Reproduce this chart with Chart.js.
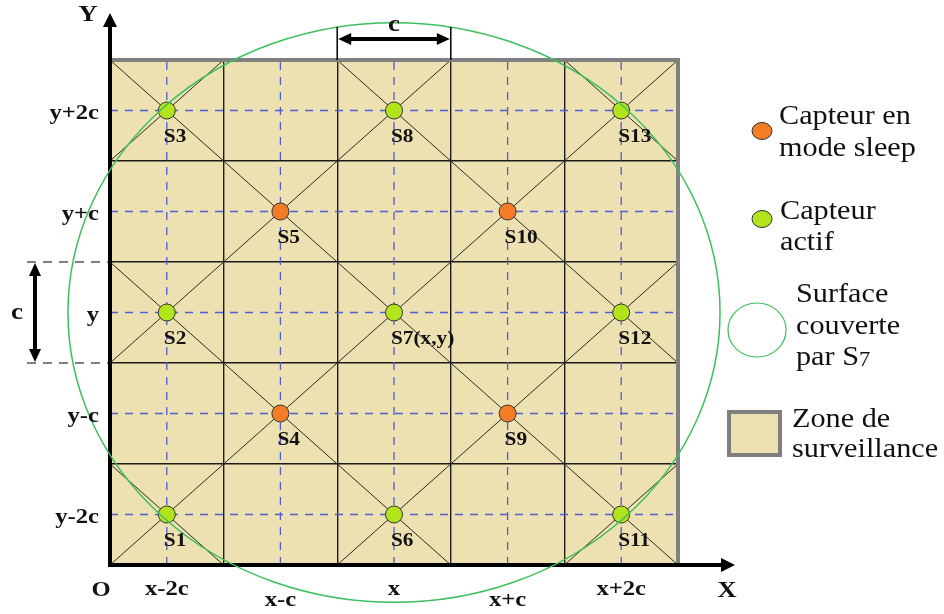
<!DOCTYPE html>
<html lang="fr">
<head>
<meta charset="utf-8">
<title>Zone de surveillance</title>
<script src="https://cdn.jsdelivr.net/npm/chart.js@4.4.1/dist/chart.umd.min.js"></script>
<style>
  html, body { margin: 0; padding: 0; background: #fff; }
  #zoneChart { display: block; }
</style>
</head>
<body>
<canvas id="zoneChart" width="944" height="614"></canvas>
<script>
/* ===================================
   Zone de surveillance - capteurs
   =================================== */

// Capteurs (en unités de cellule, origine en bas à gauche)
const sensorNames = ['S1', 'S2', 'S3', 'S4', 'S5', 'S6', 'S7', 'S8', 'S9', 'S10', 'S11', 'S12', 'S13'];
const sensorX = [0.5, 0.5, 0.5, 1.5, 1.5, 2.5, 2.5, 2.5, 3.5, 3.5, 4.5, 4.5, 4.5];
const sensorY = [0.5, 2.5, 4.5, 1.5, 3.5, 0.5, 2.5, 4.5, 1.5, 3.5, 0.5, 2.5, 4.5];
const sleepingSensors = ['S4', 'S5', 'S9', 'S10'];

// Lignes pointillées bleues (axes des capteurs)
const sensorAxes = [0.5, 1.5, 2.5, 3.5, 4.5];

// Diagonales [x1, y1, x2, y2]
const diagRising = [[0, 4, 1, 5], [0, 2, 3, 5], [0, 0, 5, 5], [2, 0, 5, 3], [4, 0, 5, 1]];
const diagFalling = [[0, 1, 1, 0], [0, 3, 3, 0], [0, 5, 5, 0], [2, 5, 5, 2], [4, 5, 5, 4]];

// Étiquettes des axes
const xTickLabels = ['x-2c', 'x-c', 'x', 'x+c', 'x+2c'];
const yTickLabels = ['y-2c', 'y-c', 'y', 'y+c', 'y+2c'];

// Rayon de la surface couverte par S7
const coverCenter = 'S7';
const coverRadius = 2.87;

// Légende
const legendSleep = ['Capteur en', 'mode sleep'];
const legendActive = ['Capteur', 'actif'];
const legendCover = ['Surface', 'couverte', 'par S'];
const legendZone = ['Zone de', 'surveillance'];

const colors = {
    zone: '#EEE1B1',
    zoneBorder: '#808080',
    grid: '#1c1c1c',
    diag: '#2a2a2a',
    blue: '#4E5ED6',
    sleep: '#F57C26',
    active: '#B2E41C',
    outline: '#333333',
    cover: '#3CBF5C',
    text: '#111111'
};

const STRETCH = 1.12;
const SERIF = "'Liberation Serif', 'DejaVu Serif', serif";

function sensorPoints(sleep) {
    const pts = [];
    sensorNames.forEach((name, i) => {
        if (sleepingSensors.includes(name) === sleep) {
            pts.push({ x: sensorX[i], y: sensorY[i] });
        }
    });
    return pts;
}

function segment(x1, y1, x2, y2, color, width, dash, order) {
    return {
        data: [{ x: x1, y: y1 }, { x: x2, y: y2 }],
        showLine: true,
        borderColor: color,
        borderWidth: width,
        borderDash: dash,
        pointRadius: 0,
        order: order
    };
}

const datasets = [
    {
        label: 'Capteur actif',
        data: sensorPoints(false),
        backgroundColor: colors.active,
        borderColor: colors.outline,
        borderWidth: 1,
        pointRadius: 8.5,
        order: 0
    },
    {
        label: 'Capteur en mode sleep',
        data: sensorPoints(true),
        backgroundColor: colors.sleep,
        borderColor: colors.outline,
        borderWidth: 1,
        pointRadius: 8.5,
        order: 0
    }
];
sensorAxes.forEach(v => {
    datasets.push(segment(v, 0, v, 5, colors.blue, 1.3, [8, 7], 2));
    datasets.push(segment(0, v, 5, v, colors.blue, 1.3, [8, 7], 2));
});
diagRising.concat(diagFalling).forEach(d => {
    datasets.push(segment(d[0], d[1], d[2], d[3], colors.diag, 1, [], 3));
});

// Texte étiré horizontalement comme dans la figure
function drawText(ctx, text, x, y, font, align) {
    ctx.save();
    ctx.font = font;
    ctx.textAlign = align || 'left';
    ctx.textBaseline = 'middle';
    ctx.fillStyle = colors.text;
    ctx.translate(x, y);
    ctx.scale(STRETCH, 1);
    ctx.fillText(text, 0, 0);
    const w = ctx.measureText(text).width * STRETCH;
    ctx.restore();
    return w;
}

function arrowHead(ctx, tx, ty, dx, dy, len, half) {
    ctx.beginPath();
    ctx.moveTo(tx, ty);
    ctx.lineTo(tx - dx * len - dy * half, ty - dy * len + dx * half);
    ctx.lineTo(tx - dx * len + dy * half, ty - dy * len - dx * half);
    ctx.closePath();
    ctx.fill();
}

const decorPlugin = {
    id: 'decor',
    beforeDraw(chart) {
        const { ctx, chartArea: a } = chart;
        ctx.save();
        ctx.fillStyle = colors.zone;
        ctx.fillRect(a.left, a.top, a.width, a.height);
        ctx.restore();
    },
    afterDraw(chart) {
        const { ctx, chartArea: a, scales } = chart;
        const xs = scales.x, ys = scales.y;
        const bold = (s) => `bold ${s}px ${SERIF}`;
        const reg = (s) => `${s}px ${SERIF}`;

        ctx.save();

        // Bordure grise haut / droite
        ctx.strokeStyle = colors.zoneBorder;
        ctx.lineWidth = 4;
        ctx.beginPath();
        ctx.moveTo(a.left, a.top);
        ctx.lineTo(a.right, a.top);
        ctx.lineTo(a.right, a.bottom);
        ctx.stroke();

        // Axes X et Y avec flèches
        ctx.strokeStyle = '#000';
        ctx.fillStyle = '#000';
        ctx.lineWidth = 4;
        ctx.beginPath();
        ctx.moveTo(a.left, a.bottom + 2);
        ctx.lineTo(a.left, a.top - 36);
        ctx.moveTo(a.left - 2, a.bottom);
        ctx.lineTo(a.right + 46, a.bottom);
        ctx.stroke();
        arrowHead(ctx, a.left, a.top - 47, 0, -1, 14, 7);
        arrowHead(ctx, a.right + 57, a.bottom, 1, 0, 14, 7);

        // Surface couverte par S7
        const ci = sensorNames.indexOf(coverCenter);
        const cx = xs.getPixelForValue(sensorX[ci]);
        const cy = ys.getPixelForValue(sensorY[ci]);
        const rx = xs.getPixelForValue(sensorX[ci] + coverRadius) - cx;
        const ry = cy - ys.getPixelForValue(sensorY[ci] + coverRadius);
        ctx.strokeStyle = colors.cover;
        ctx.lineWidth = 1.5;
        ctx.beginPath();
        ctx.ellipse(cx, cy, rx, ry, 0, 0, Math.PI * 2);
        ctx.stroke();

        // Cote horizontale "c"
        const c1 = xs.getPixelForValue(2), c2 = xs.getPixelForValue(3);
        const cyDim = a.top - 21;
        ctx.strokeStyle = '#000';
        ctx.fillStyle = '#000';
        ctx.lineWidth = 1.5;
        ctx.beginPath();
        ctx.moveTo(c1, a.top - 33); ctx.lineTo(c1, a.top);
        ctx.moveTo(c2, a.top - 33); ctx.lineTo(c2, a.top);
        ctx.stroke();
        ctx.lineWidth = 4;
        ctx.beginPath();
        ctx.moveTo(c1 + 10, cyDim); ctx.lineTo(c2 - 10, cyDim);
        ctx.stroke();
        arrowHead(ctx, c1 + 1, cyDim, -1, 0, 13, 6);
        arrowHead(ctx, c2 - 1, cyDim, 1, 0, 13, 6);
        drawText(ctx, 'c', (c1 + c2) / 2, a.top - 35, bold(24), 'center');

        // Cote verticale "c"
        const r1 = ys.getPixelForValue(3), r2 = ys.getPixelForValue(2);
        ctx.lineWidth = 1.2;
        ctx.setLineDash([9, 7]);
        ctx.beginPath();
        ctx.moveTo(27, r1); ctx.lineTo(a.left, r1);
        ctx.moveTo(27, r2); ctx.lineTo(a.left, r2);
        ctx.stroke();
        ctx.setLineDash([]);
        ctx.lineWidth = 4;
        ctx.beginPath();
        ctx.moveTo(35, r1 + 10); ctx.lineTo(35, r2 - 10);
        ctx.stroke();
        arrowHead(ctx, 35, r1 + 1, 0, -1, 13, 6);
        arrowHead(ctx, 35, r2 - 1, 0, 1, 13, 6);
        drawText(ctx, 'c', 17, (r1 + r2) / 2, bold(24), 'center');

        // Étiquettes des axes
        xTickLabels.forEach((t, i) => {
            const drop = i % 2 === 0 ? 24 : 35;
            drawText(ctx, t, xs.getPixelForValue(sensorAxes[i]), a.bottom + drop, bold(22), 'center');
        });
        yTickLabels.forEach((t, i) => {
            drawText(ctx, t, a.left - 11, ys.getPixelForValue(sensorAxes[i]) + 3, bold(22), 'right');
        });
        drawText(ctx, 'O', a.left - 9, a.bottom + 25, bold(22), 'center');
        drawText(ctx, 'Y', a.left - 22, 15, bold(24), 'center');
        drawText(ctx, 'X', a.right + 49, a.bottom + 26, bold(24), 'center');

        // Noms des capteurs
        sensorNames.forEach((name, i) => {
            const label = name === coverCenter ? name + '(x,y)' : name;
            drawText(ctx, label, xs.getPixelForValue(sensorX[i]) - 3,
                ys.getPixelForValue(sensorY[i]) + 27, bold(19), 'left');
        });

        // Légende
        const lx = a.right;
        const dot = (x, y, fill) => {
            ctx.fillStyle = fill;
            ctx.strokeStyle = colors.outline;
            ctx.lineWidth = 1;
            ctx.beginPath();
            ctx.ellipse(x, y, 10, 8.5, 0, 0, Math.PI * 2);
            ctx.fill();
            ctx.stroke();
        };
        dot(lx + 84, 131, colors.sleep);
        legendSleep.forEach((t, i) => drawText(ctx, t, lx + 101, 117 + i * 32, reg(27)));
        dot(lx + 84, 219, colors.active);
        legendActive.forEach((t, i) => drawText(ctx, t, lx + 102, 212 + i * 31, reg(27)));

        ctx.strokeStyle = colors.cover;
        ctx.lineWidth = 1.2;
        ctx.beginPath();
        ctx.ellipse(lx + 79, 330, 29, 27, 0, 0, Math.PI * 2);
        ctx.stroke();
        legendCover.forEach((t, i) => {
            const w = drawText(ctx, t, lx + 118, 295 + i * 31.5, reg(27));
            if (i === legendCover.length - 1) {
                drawText(ctx, '7', lx + 118 + w, 361, reg(20));
            }
        });

        ctx.fillStyle = colors.zone;
        ctx.fillRect(lx + 51, 412, 51, 43);
        ctx.strokeStyle = colors.zoneBorder;
        ctx.lineWidth = 4;
        ctx.strokeRect(lx + 51, 412, 51, 43);
        legendZone.forEach((t, i) => drawText(ctx, t, lx + 114, 420 + i * 30, reg(27)));

        ctx.restore();
    }
};

function initZoneChart() {
    const ctx = document.getElementById('zoneChart');
    if (!ctx) return;

    new Chart(ctx, {
        type: 'scatter',
        data: { datasets: datasets },
        options: {
            responsive: false,
            animation: false,
            layout: {
                padding: { left: 110, top: 60, right: 266, bottom: 49 }
            },
            plugins: {
                legend: { display: false },
                tooltip: { enabled: false }
            },
            scales: {
                x: {
                    type: 'linear',
                    min: 0,
                    max: 5,
                    ticks: { display: false, stepSize: 1 },
                    grid: { color: colors.grid, lineWidth: 1.4, drawTicks: false },
                    border: { display: false },
                    afterFit: (s) => { s.height = 0; }
                },
                y: {
                    type: 'linear',
                    min: 0,
                    max: 5,
                    ticks: { display: false, stepSize: 1 },
                    grid: { color: colors.grid, lineWidth: 1.4, drawTicks: false },
                    border: { display: false },
                    afterFit: (s) => { s.width = 0; }
                }
            }
        },
        plugins: [decorPlugin]
    });
}

document.addEventListener('DOMContentLoaded', initZoneChart);
</script>
</body>
</html>
